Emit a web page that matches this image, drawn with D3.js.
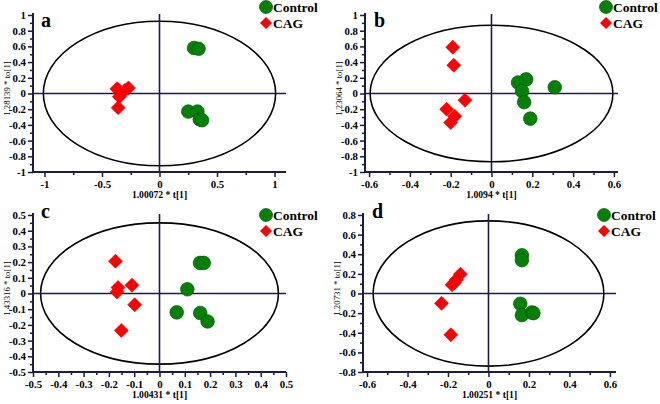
<!DOCTYPE html>
<html><head><meta charset="utf-8">
<script src="https://cdn.jsdelivr.net/npm/d3@7"></script>
<style>
html,body{margin:0;padding:0;background:#fff;}
svg text{font-family:"Times New Roman","Liberation Serif","DejaVu Serif",serif !important;font-weight:bold;}
</style></head>
<body>
<svg id="chart" width="660" height="404"></svg>
<script>
// ---- data ----
const panelLetters = ["a","b","c","d"];
const xTitles = ["1.00072 * t[1]","1.0094 * t[1]","1.00431 * t[1]","1.00251 * t[1]"];
const yTitles = ["1.28139 * to[1]","1.23064 * to[1]","1.43316 * to[1]","1.20731 * to[1]"];
const legendLabels = ["Control","CAG"];

const controlA = [[0.30,0.58],[0.34,0.57],[0.25,-0.23],[0.33,-0.23],[0.35,-0.33],[0.37,-0.34]];
const cagA     = [[-0.36,0.05],[-0.27,0.07],[-0.30,0.04],[-0.35,-0.04],[-0.36,-0.18],[-0.37,0.06]];
const controlB = [[0.13,0.14],[0.17,0.18],[0.15,0.03],[0.16,-0.11],[0.19,-0.32],[0.31,0.08]];
const cagB     = [[-0.19,0.59],[-0.185,0.36],[-0.13,-0.085],[-0.22,-0.20],[-0.18,-0.29],[-0.20,-0.37]];
const controlC = [[0.16,0.195],[0.175,0.195],[0.11,0.027],[0.068,-0.12],[0.161,-0.124],[0.19,-0.178]];
const cagC     = [[-0.174,0.206],[-0.164,0.038],[-0.168,0.01],[-0.109,0.053],[-0.098,-0.071],[-0.151,-0.235]];
const controlD = [[0.165,0.39],[0.165,0.34],[0.157,-0.105],[0.165,-0.22],[0.214,-0.193],[0.222,-0.20]];
const cagD     = [[-0.139,0.197],[-0.159,0.139],[-0.18,0.089],[-0.168,0.11],[-0.232,-0.10],[-0.186,-0.42]];

const xDomains = [[-1.1,1.1],[-0.62,0.62],[-0.5,0.5],[-0.62,0.63]];
const yDomains = [[-1,1],[-1,1],[-0.5,0.5],[-0.8,0.8]];
const xMajor = [[-1,-0.5,0,0.5,1],[-0.6,-0.4,-0.2,0,0.2,0.4,0.6],
  [-0.5,-0.4,-0.3,-0.2,-0.1,0,0.1,0.2,0.3,0.4,0.5],[-0.6,-0.4,-0.2,0,0.2,0.4,0.6]];
const xMinor = [[-0.75,-0.25,0.25,0.75],[-0.5,-0.3,-0.1,0.1,0.3,0.5],
  [-0.45,-0.35,-0.25,-0.15,-0.05,0.05,0.15,0.25,0.35,0.45],[-0.5,-0.3,-0.1,0.1,0.3,0.5]];
const yMajor = [[-1,-0.8,-0.6,-0.4,-0.2,0,0.2,0.4,0.6,0.8,1],[-1,-0.8,-0.6,-0.4,-0.2,0,0.2,0.4,0.6,0.8,1],
  [-0.5,-0.4,-0.3,-0.2,-0.1,0,0.1,0.2,0.3,0.4,0.5],[-0.8,-0.6,-0.4,-0.2,0,0.2,0.4,0.6,0.8]];
const yMinor = [[-0.9,-0.7,-0.5,-0.3,-0.1,0.1,0.3,0.5,0.7,0.9],[-0.9,-0.7,-0.5,-0.3,-0.1,0.1,0.3,0.5,0.7,0.9],
  [-0.45,-0.35,-0.25,-0.15,-0.05,0.05,0.15,0.25,0.35,0.45],[-0.7,-0.5,-0.3,-0.1,0.1,0.3,0.5,0.7]];
// ellipse semi-axes (data units)
const ellipseRx = [1.01,0.595,0.47,0.57];
const ellipseRy = [0.92,0.87,0.45,0.74];

const controls = [controlA,controlB,controlC,controlD];
const cags = [cagA,cagB,cagC,cagD];
const offsets = [[0,0],[332,0],[0,200],[330,200]];

// ---- drawing ----
const FONT = '"Times New Roman","Liberation Serif","DejaVu Serif",serif';
const svg = d3.select("#chart");
const axisColor = "#1c1c3c";
const green = "#078007", greenStroke = "#035a03";
const red = "#ff0000", redStroke = "#e00000";
const fmt = d => String(+d.toFixed(2));
const diamond = r => `M0,${-r}L${r},0L0,${r}L${-r},0Z`;

for (let i = 0; i < 4; i++) {
  const g = svg.append("g").attr("transform", `translate(${offsets[i][0]},${offsets[i][1]})`)
    .attr("font-family", FONT);
  const L = 33, R = 286, T = 15, B = 172;
  const x = d3.scaleLinear().domain(xDomains[i]).range([L, R]);
  const y = d3.scaleLinear().domain(yDomains[i]).range([B, T]);

  // ellipse
  g.append("ellipse")
    .attr("cx", x(0)).attr("cy", y(0))
    .attr("rx", x(ellipseRx[i]) - x(0)).attr("ry", y(0) - y(ellipseRy[i]))
    .attr("fill", "none").attr("stroke", "#000").attr("stroke-width", 1.6);

  // crosshair
  g.append("line").attr("x1", L).attr("x2", R).attr("y1", y(0)).attr("y2", y(0))
    .attr("stroke", axisColor).attr("stroke-width", 1.6);
  g.append("line").attr("x1", x(0)).attr("x2", x(0)).attr("y1", T - 1).attr("y2", B)
    .attr("stroke", axisColor).attr("stroke-width", 1.6);

  // axes
  const xa = g.append("g").attr("transform", `translate(0,${B})`)
    .call(d3.axisBottom(x).tickValues(xMajor[i]).tickFormat(fmt).tickSize(5).tickPadding(3).tickSizeOuter(0));
  const xm = g.append("g").attr("transform", `translate(0,${B})`)
    .call(d3.axisBottom(x).tickValues(xMinor[i]).tickFormat("").tickSize(3).tickSizeOuter(0));
  const ya = g.append("g").attr("transform", `translate(${L},0)`)
    .call(d3.axisLeft(y).tickValues(yMajor[i]).tickFormat(fmt).tickSize(5).tickPadding(2).tickSizeOuter(0));
  const ym = g.append("g").attr("transform", `translate(${L},0)`)
    .call(d3.axisLeft(y).tickValues(yMinor[i]).tickFormat("").tickSize(3).tickSizeOuter(0));
  [xa, xm, ya, ym].forEach(a => {
    a.attr("font-family", FONT).attr("font-size", 10.8);
    a.select(".domain").attr("stroke", axisColor).attr("stroke-width", 2);
    a.selectAll(".tick line").attr("stroke", axisColor).attr("stroke-width", 1.5);
    a.selectAll("text").attr("fill", "#000").attr("font-weight", "bold");
  });
  xm.select(".domain").remove(); ym.select(".domain").remove();
  xa.select(".domain").attr("d", `M${L},0H${R}`);
  ya.select(".domain").attr("d", `M0,${B}V${T - 2}`);

  // axis titles
  g.append("text").attr("x", (L + R) / 2).attr("y", 198).attr("text-anchor", "middle")
    .attr("font-size", 9.6).attr("font-weight", "bold").text(xTitles[i]);
  g.append("text").attr("transform", `translate(10,${(T + B) / 2 - 5}) rotate(-90)`)
    .attr("text-anchor", "middle").attr("font-size", 8.8).style("font-weight", "normal")
    .text(yTitles[i]);

  // points
  g.selectAll("path.cag").data(cags[i]).join("path").attr("class", "cag")
    .attr("transform", d => `translate(${x(d[0])},${y(d[1])})`)
    .attr("d", diamond(7)).attr("fill", red).attr("stroke", redStroke).attr("stroke-width", 0.6);
  g.selectAll("circle.ctl").data(controls[i]).join("circle").attr("class", "ctl")
    .attr("cx", d => x(d[0])).attr("cy", d => y(d[1])).attr("r", 6.8)
    .attr("fill", green).attr("stroke", greenStroke).attr("stroke-width", 0.7);

  // panel letter
  g.append("text").attr("x", i % 2 === 0 ? 41 : 42).attr("y", i < 2 ? 27 : 18)
    .attr("font-size", 20).attr("font-weight", "bold").text(panelLetters[i]);

  // legend
  const lx = i % 2 === 0 ? 266 : 274, ly = 7 + (i < 2 ? 0 : 8);
  g.append("circle").attr("cx", lx).attr("cy", ly).attr("r", 6.5)
    .attr("fill", green).attr("stroke", greenStroke).attr("stroke-width", 0.7);
  g.append("path").attr("transform", `translate(${lx},${ly + 16})`)
    .attr("d", diamond(6)).attr("fill", red);
  g.append("text").attr("x", lx + 7).attr("y", ly + 5)
    .attr("font-size", 13.5).attr("font-weight", "bold").text(legendLabels[0]);
  g.append("text").attr("x", lx + 7).attr("y", ly + 21)
    .attr("font-size", 13.5).attr("font-weight", "bold").text(legendLabels[1]);
}
</script>
</body></html>
